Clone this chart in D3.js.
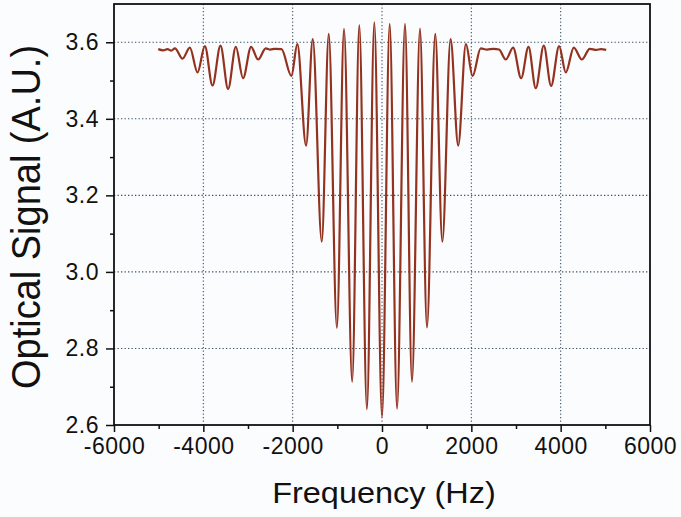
<!DOCTYPE html>
<html>
<head>
<meta charset="utf-8">
<script src="https://cdn.jsdelivr.net/npm/d3@7"></script>
<style>
    html, body { margin: 0; padding: 0; background: #fbfcfe; }
    svg { display: block; }
    text { font-family: "Liberation Sans", Arial, sans-serif; fill: #111; }
</style>
</head>
<body>
<div id="chart"></div>
<script>
/* spectrum (turning points + flat parts) */
var freqHz = [
    -5010, -4900, -4800, -4720, -4635, -4466, -4302, -4130, -3966, -3795,
    -3616, -3445, -3273, -3110, -2931, -2774, -2602, -2500, -2400, -2250,
    -2029, -1895, -1700, -1550, -1349, -1192, -1010, -850, -668, -508,
    -338, -172, 0, 172, 337, 515, 671, 850, 1007, 1192,
    1351, 1535, 1706, 1878, 2028, 2210, 2350, 2500, 2620, 2771,
    2936, 3115, 3280, 3443, 3622, 3786, 3965, 4115, 4294, 4473,
    4652, 4800, 4900, 5020
];
var signalAU = [
    3.582, 3.579, 3.582, 3.578, 3.584, 3.557, 3.586, 3.521, 3.590, 3.487,
    3.591, 3.478, 3.588, 3.506, 3.588, 3.555, 3.584, 3.581, 3.583, 3.582,
    3.512, 3.595, 3.330, 3.608, 3.079, 3.622, 2.854, 3.635, 2.713, 3.645,
    2.641, 3.652, 2.621, 3.648, 2.643, 3.648, 2.713, 3.636, 2.855, 3.622,
    3.079, 3.608, 3.330, 3.595, 3.512, 3.584, 3.581, 3.583, 3.581, 3.555,
    3.586, 3.506, 3.588, 3.480, 3.591, 3.486, 3.590, 3.521, 3.586, 3.555,
    3.583, 3.580, 3.582, 3.580
];

var xTicks = [-6000, -4000, -2000, 0, 2000, 4000, 6000];
var xMinorTicks = [-5000, -3000, -1000, 1000, 3000, 5000];
var xGrid = [-4000, -2000, 0, 2000, 4000];
var yTicks = [2.6, 2.8, 3.0, 3.2, 3.4, 3.6];
var yMinorTicks = [2.7, 2.9, 3.1, 3.3, 3.5];
var yGrid = [2.8, 3.0, 3.2, 3.4, 3.6];

(function () {
    var width = 681,
        height = 517,
        plotLeft = 114,
        plotRight = 650,
        plotTop = 4,
        plotBottom = 425;

    var x = d3.scaleLinear().domain([-6000, 6000]).range([plotLeft, plotRight]);
    var y = d3.scaleLinear().domain([2.6, 3.7]).range([plotBottom, plotTop]);

    var svg = d3.select("#chart").append("svg")
        .attr("width", width)
        .attr("height", height);

    // dotted grid
    var grid = svg.append("g")
        .attr("stroke", "#3d4f60")
        .attr("stroke-width", 1.1)
        .attr("stroke-dasharray", "1.3,2.2");

    grid.selectAll("line.gx").data(xGrid).enter().append("line")
        .attr("class", "gx")
        .attr("x1", function (d) { return x(d); })
        .attr("x2", function (d) { return x(d); })
        .attr("y1", plotTop)
        .attr("y2", plotBottom);

    grid.selectAll("line.gy").data(yGrid).enter().append("line")
        .attr("class", "gy")
        .attr("x1", plotLeft)
        .attr("x2", plotRight)
        .attr("y1", function (d) { return y(d); })
        .attr("y2", function (d) { return y(d); });

    // the trace
    var points = freqHz.map(function (f, i) {
        return [f, signalAU[i]];
    });

    var line = d3.line()
        .x(function (d) { return x(d[0]); })
        .y(function (d) { return y(d[1]); })
        .curve(d3.curveMonotoneX);

    svg.append("path")
        .datum(points)
        .attr("fill", "none")
        .attr("stroke", "#93321f")
        .attr("stroke-width", 2.2)
        .attr("stroke-linejoin", "round")
        .attr("d", line);

    // axes
    svg.append("g")
        .attr("transform", "translate(0," + plotBottom + ")")
        .call(d3.axisBottom(x).tickValues(xTicks).tickSize(7).tickPadding(6)
            .tickFormat(function (d) { return String(d); }));

    svg.append("g")
        .attr("transform", "translate(0," + plotBottom + ")")
        .call(d3.axisBottom(x).tickValues(xMinorTicks).tickSize(4).tickFormat(""));

    svg.append("g")
        .attr("transform", "translate(" + plotLeft + ",0)")
        .call(d3.axisLeft(y).tickValues(yTicks).tickSize(8).tickPadding(7)
            .tickFormat(d3.format(".1f")));

    svg.append("g")
        .attr("transform", "translate(" + plotLeft + ",0)")
        .call(d3.axisLeft(y).tickValues(yMinorTicks).tickSize(4).tickFormat(""));

    svg.selectAll(".domain").remove();
    svg.selectAll(".tick line").attr("stroke", "#111").attr("stroke-width", 1.5);
    svg.selectAll(".tick text")
        .attr("font-family", "Liberation Sans, Arial, sans-serif")
        .attr("font-size", 23)
        .attr("letter-spacing", 0.5)
        .attr("fill", "#111");

    // frame
    svg.append("rect")
        .attr("x", plotLeft)
        .attr("y", plotTop)
        .attr("width", plotRight - plotLeft)
        .attr("height", plotBottom - plotTop)
        .attr("fill", "none")
        .attr("stroke", "#111")
        .attr("stroke-width", 1.8);

    // titles
    svg.append("text")
        .attr("transform", "translate(384,503) scale(1.12,1)")
        .attr("text-anchor", "middle")
        .attr("font-size", 29)
        .text("Frequency (Hz)");

    svg.append("text")
        .attr("transform", "translate(40,217) scale(1.08,1) rotate(-90)")
        .attr("text-anchor", "middle")
        .attr("font-size", 38)
        .text("Optical Signal (A.U.)");
})();
</script>
</body>
</html>
